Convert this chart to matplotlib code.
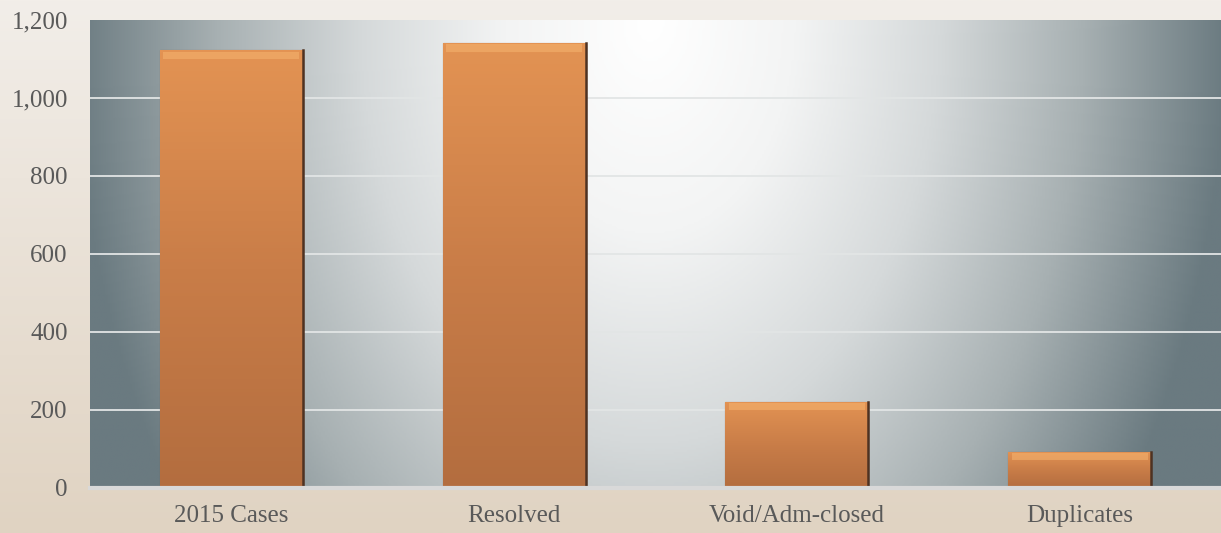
import numpy as np
import matplotlib.pyplot as plt
from matplotlib.colors import LinearSegmentedColormap
from matplotlib.ticker import FuncFormatter

# data
categories = ['2015 Cases', 'Resolved', 'Void/Adm-closed', 'Duplicates']
values = [1122, 1141, 221, 93]
yticks = [0, 200, 400, 600, 800, 1000, 1200]

plt.rcParams['font.family'] = ['Liberation Serif', 'DejaVu Serif']

fig = plt.figure(figsize=(12.21, 5.33), dpi=100)

# beige page background, a bit lighter at the top
bg = fig.add_axes([0, 0, 1, 1], zorder=-10)
page = LinearSegmentedColormap.from_list('page', ['#f2eee9', '#e0d3c2'])
bg.imshow(np.linspace(0, 1, 256).reshape(-1, 1), aspect='auto', cmap=page,
          extent=[0, 1, 0, 1], origin='upper')
bg.axis('off')

ax = fig.add_axes([90 / 1221, 45 / 533, 1131 / 1221, 468 / 533])

# grey plot area: white glow near the top middle, dark to the sides
px, py = np.meshgrid(np.linspace(90, 1221, 500), np.linspace(20, 488, 220))
d = np.sqrt(((px - 650) / 580) ** 2 + ((py - 20) / 850) ** 2)
d = np.clip(d, 0, 1)
plot_cmap = LinearSegmentedColormap.from_list(
    'plot', [(0, '#ffffff'), (0.25, '#f3f4f4'), (0.5, '#d5d9da'),
             (0.75, '#a7b0b2'), (1, '#6a7a80')])
ax.imshow(d, cmap=plot_cmap, aspect='auto', extent=[-0.5, 3.5, 0, 1200],
          origin='upper', zorder=0)
ax.set_xlim(-0.5, len(categories) - 0.5)
ax.set_ylim(0, 1200)

for t in yticks[1:-1]:
    ax.axhline(t, color='#e2e5e5', lw=1.3, zorder=1)
ax.axhline(0, color='#d9d9d9', lw=3, zorder=4, clip_on=False)

bar_cmap = LinearSegmentedColormap.from_list('bar', ['#b36d3f', '#c97d48', '#e39353'])
x = np.arange(len(categories))
bars = ax.bar(x, values, width=0.505, color='#d08248', edgecolor='#6b4530',
              linewidth=0.8, zorder=2)
for b in bars:
    x0, y0 = b.get_x(), b.get_y()
    w, h = b.get_width(), b.get_height()
    grad = np.linspace(0, 1, 128).reshape(-1, 1)
    im = ax.imshow(grad, cmap=bar_cmap, aspect='auto', origin='lower',
                   extent=[x0, x0 + w, y0, y0 + h], zorder=2.5)
    im.set_clip_path(b)
    # light bevel along the top
    bev = min(22, h * 0.25)
    ax.fill_between([x0 + 0.012, x0 + w - 0.012], y0 + h - bev, y0 + h - 3,
                    color='#f6b470', alpha=0.55, lw=0, zorder=2.6)
    ax.plot([x0 + w, x0 + w], [y0, y0 + h], color='#4e3222', lw=1.8, zorder=2.7)

ax.set_xticks(x)
ax.set_xticklabels(categories)
ax.set_yticks(yticks)
ax.yaxis.set_major_formatter(FuncFormatter(lambda v, p: f'{int(v):,}'))
ax.tick_params(axis='both', length=0, labelsize=18, colors='#595959')
ax.tick_params(axis='y', pad=16)
ax.tick_params(axis='x', pad=12)
for s in ax.spines.values():
    s.set_visible(False)

fig.savefig('out.png', dpi=100)
